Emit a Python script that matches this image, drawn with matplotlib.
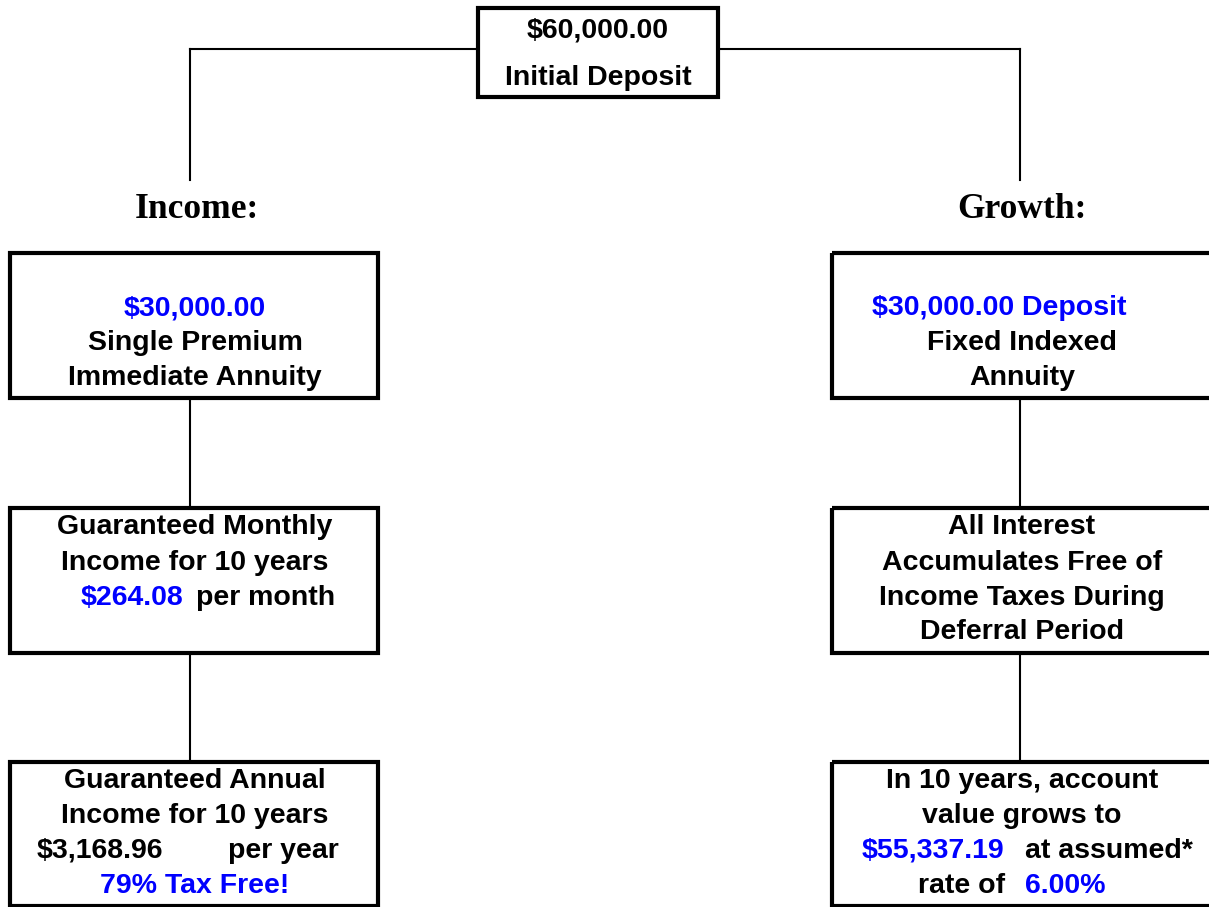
import matplotlib.pyplot as plt
from matplotlib.patches import Rectangle

BLUE = "#0000ff"
BLACK = "#000000"

top_lines = ["$60,000.00", "Initial Deposit"]
branch_titles = ["Income:", "Growth:"]

# each box: list of lines, each line a list of (text, color) pieces
income_boxes = [
    [[("$30,000.00", BLUE)], [("Single Premium", BLACK)], [("Immediate Annuity", BLACK)]],
    [[("Guaranteed Monthly", BLACK)], [("Income for 10 years", BLACK)],
     [("$264.08", BLUE), ("per month", BLACK)]],
    [[("Guaranteed Annual", BLACK)], [("Income for 10 years", BLACK)],
     [("$3,168.96", BLACK), ("per year", BLACK)], [("79% Tax Free!", BLUE)]],
]
growth_boxes = [
    [[("$30,000.00 Deposit", BLUE)], [("Fixed Indexed", BLACK)], [("Annuity", BLACK)]],
    [[("All Interest", BLACK)], [("Accumulates Free of", BLACK)],
     [("Income Taxes During", BLACK)], [("Deferral Period", BLACK)]],
    [[("In 10 years, account", BLACK)], [("value grows to", BLACK)],
     [("$55,337.19", BLUE), ("at assumed*", BLACK)],
     [("rate of", BLACK), ("6.00%", BLUE)]],
]

# layout (pixels, y downward)
box_rows = [(253, 398), (508, 653), (762, 906)]
income_x = (10, 378)
growth_x = (832, 1240)
income_cx = 190
growth_cx = 1020
line_y = {
    ("inc", 0): [308, 343, 378],
    ("inc", 1): [527, 563, 598],
    ("inc", 2): [781, 816, 851, 886],
    ("gro", 0): [308, 343, 378],
    ("gro", 1): [527, 563, 598, 632],
    ("gro", 2): [781, 816, 851, 886],
}
text_cx = {"inc": 195, "gro": 1022}
# left start x of pieces on mixed lines
piece_x = {
    ("inc", 1, 2): [81, 196],
    ("inc", 2, 2): [37, 228],
    ("gro", 0, 0): [872],
    ("gro", 2, 2): [862, 1025],
    ("gro", 2, 3): [918, 1025],
}

fig = plt.figure(figsize=(12.09, 9.07), dpi=100)
ax = fig.add_axes([0, 0, 1, 1])
ax.set_xlim(0, 1209)
ax.set_ylim(907, 0)
ax.axis("off")

font = dict(family=["Liberation Sans", "DejaVu Sans"], fontweight="bold", fontsize=20.5)
serif = dict(family=["Liberation Serif", "DejaVu Serif"], fontweight="bold", fontsize=25.5)

def box(x0, x1, y0, y1):
    ax.add_patch(Rectangle((x0, y0), x1 - x0, y1 - y0, fill=False,
                           edgecolor="black", linewidth=3.0, joinstyle="miter"))

# top box and connectors
box(478, 718, 8, 97)
ax.text(598, 31, top_lines[0], ha="center", va="center", **font)
ax.text(598, 78, top_lines[1], ha="center", va="center", **font)
ax.plot([income_cx, 478], [49, 49], color="black", lw=1.5)
ax.plot([718, growth_cx], [49, 49], color="black", lw=1.5)
ax.plot([income_cx, income_cx], [49, 180], color="black", lw=1.5)
ax.plot([growth_cx, growth_cx], [49, 180], color="black", lw=1.5)

ax.text(197, 210, branch_titles[0], ha="center", va="center", **serif)
ax.text(1022, 210, branch_titles[1], ha="center", va="center", **serif)

for key, boxes, (x0, x1), cx in [("inc", income_boxes, income_x, income_cx),
                                  ("gro", growth_boxes, growth_x, growth_cx)]:
    for i, lines in enumerate(boxes):
        y0, y1 = box_rows[i]
        box(x0, x1, y0, y1)
        if i > 0:
            ax.plot([cx, cx], [box_rows[i - 1][1], y0], color="black", lw=1.5)
        for j, pieces in enumerate(lines):
            y = line_y[(key, i)][j]
            if (key, i, j) in piece_x:
                for (txt, col), px in zip(pieces, piece_x[(key, i, j)]):
                    ax.text(px, y, txt, ha="left", va="center", color=col, **font)
            else:
                txt, col = pieces[0]
                ax.text(text_cx[key], y, txt, ha="center", va="center", color=col, **font)

fig.savefig("out.png", dpi=100)
